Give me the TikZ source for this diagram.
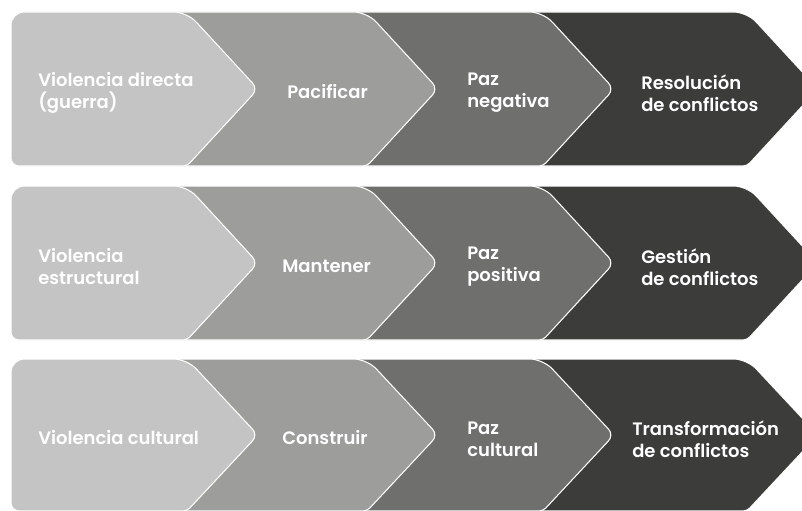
\documentclass[tikz,border=0pt]{standalone}
\usepackage{fontspec}
\setmainfont{Poppins}[BoldFont={* SemiBold}]
\definecolor{cOne}{HTML}{C4C4C4}
\definecolor{cTwo}{HTML}{9D9D9C}
\definecolor{cThree}{HTML}{6F6F6E}
\definecolor{cFour}{HTML}{3C3C3B}
\newcommand\mychev[4]{%
  \path[chevshape, fill=#1] (11,{(#3+#4)/2}) [rounded corners=10pt] -- (11,#3) -- (#2,#3)
    [rounded corners=6pt] -- ({#2+71},{(#3+#4)/2})
    [rounded corners=3pt] -- (#2,#4)
    [rounded corners=6pt] -- (11,#4)
    [rounded corners=10pt] -- cycle;}
\begin{document}
\begin{tikzpicture}[x=0.75pt,y=-0.75pt,
  chevshape/.style={draw=white, line width=0.8pt},
  lbl/.style={anchor=west, align=left, inner sep=0pt, text=white,
    font=\fontsize{13.5pt}{16.5pt}\selectfont\bfseries}]
\useasboundingbox (0,0) rectangle (802,510);
\clip (0,0) rectangle (802,510);
% row 1
\mychev{cFour}{747}{12}{166}
\mychev{cThree}{543}{12}{166}
\mychev{cTwo}{367}{12}{166}
\mychev{cOne}{187}{12}{166}
% row 2
\mychev{cFour}{747}{186}{340}
\mychev{cThree}{543}{186}{340}
\mychev{cTwo}{367}{186}{340}
\mychev{cOne}{187}{186}{340}
% row 3
\mychev{cFour}{747}{359}{511}
\mychev{cThree}{543}{359}{511}
\mychev{cTwo}{367}{359}{511}
\mychev{cOne}{187}{359}{511}
% labels row 1
\node[lbl] (a1) at (38,93) {Violencia directa\\(guerra)};
\node[lbl] (b1) at (287,92) {Pacificar};
\node[lbl] (c1) at (467,93) {Paz\\negativa};
\node[lbl] (d1) at (641,93) {Resolución\\de conflictos};
% labels row 2
\node[lbl] (a2) at (38,267) {Violencia\\estructural};
\node[lbl] (b2) at (282,266) {Mantener};
\node[lbl] (c2) at (467,267) {Paz\\positiva};
\node[lbl] (d2) at (641,267) {Gestión\\de conflictos};
% labels row 3
\node[lbl] (a3) at (38,438) {Violencia cultural};
\node[lbl] (b3) at (282,438) {Construir};
\node[lbl] (c3) at (467,439) {Paz\\cultural};
\node[lbl] (d3) at (632,439) {Transformación\\de conflictos};
\end{tikzpicture}
\end{document}
